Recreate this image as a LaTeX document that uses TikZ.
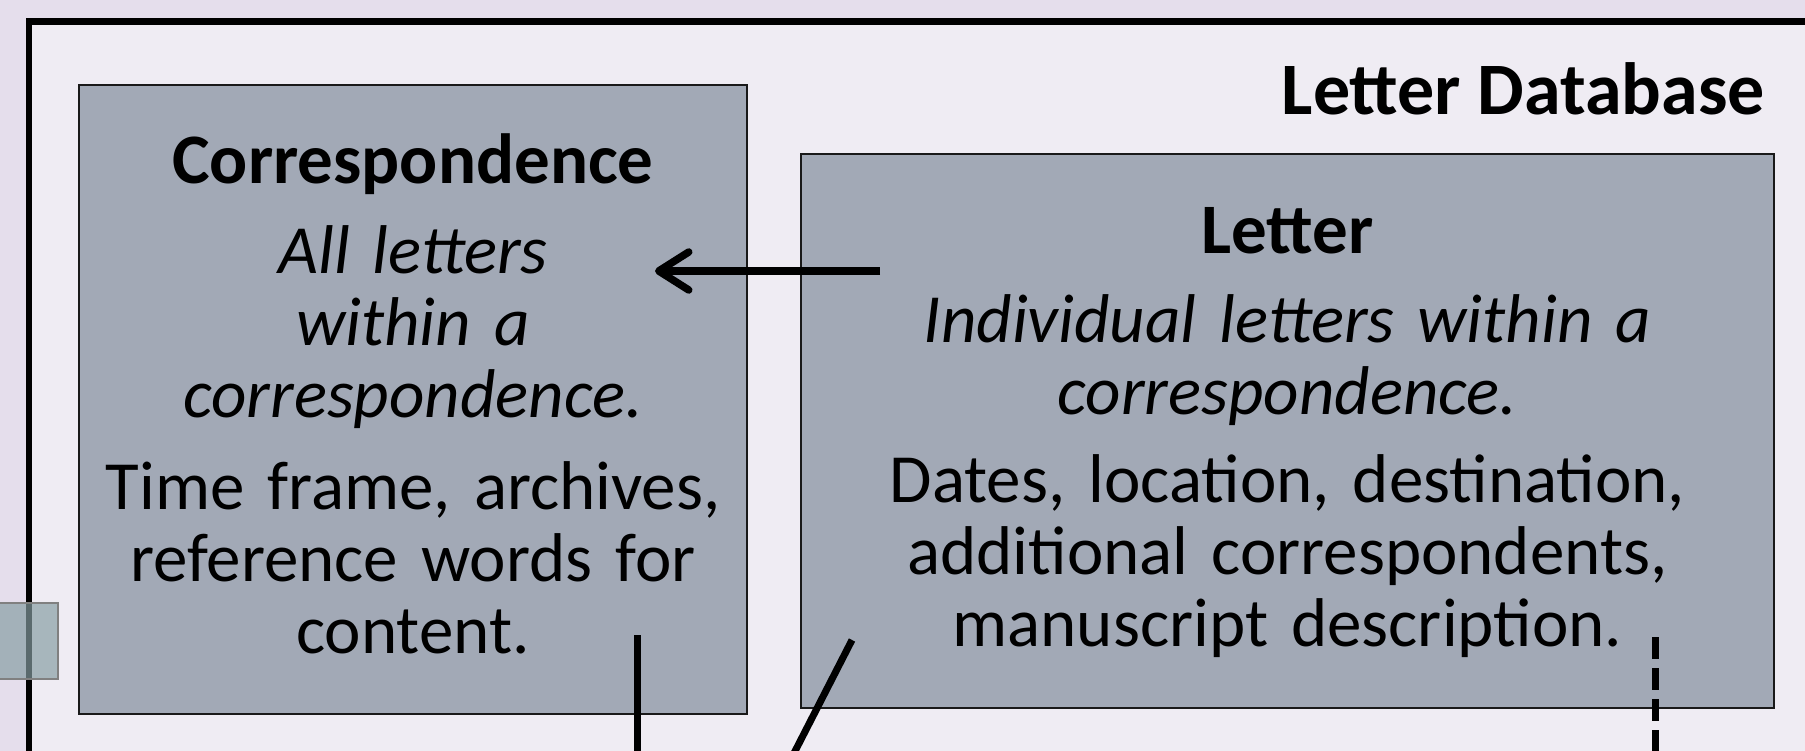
\documentclass[tikz,border=0pt]{standalone}
\usepackage{fontspec}
\setmainfont{Carlito}
\usetikzlibrary{arrows.meta,positioning}
\definecolor{pagebg}{RGB}{229,222,236}
\definecolor{framebg}{RGB}{239,236,243}
\definecolor{boxfill}{RGB}{162,169,182}
\definecolor{tabfill}{RGB}{133,157,162}
\tikzset{
  entity/.style={draw=black!90, line width=2pt, fill=boxfill, inner sep=0pt,
    align=center, font=\fontsize{69}{72}\selectfont},
  link/.style={line width=7pt}
}

\begin{document}
\begin{tikzpicture}[x=1pt,y=-1pt]
  \useasboundingbox (0,0) rectangle (1805,751);
  \clip (0,0) rectangle (1805,751);
  \fill[pagebg] (0,0) rectangle (1805,751);

  \draw[line width=6.5pt, fill=framebg] (29,21.5) rectangle (1900,900);

  \node[entity, minimum width=668pt, minimum height=629pt, text width=640pt, text height=39pt] (corr) at (413,399.5)
    {{\fontsize{71}{72}\selectfont\bfseries Correspondence}\\[18pt]
     {\itshape All letters\\ within a\\ correspondence.}\\[20pt]
     Time frame, archives,\\ reference words for\\ content.};

  \node[entity, minimum width=973pt, minimum height=554pt, text width=940pt, text height=50pt] (letter) at (1287.5,431)
    {{\fontsize{71}{72}\selectfont\bfseries Letter}\\[17pt]
     {\itshape Individual letters within a\\ correspondence.}\\[16pt]
     Dates, location, destination,\\ additional correspondents,\\ manuscript description.};

  \node[anchor=base east, inner sep=0pt, font=\fontsize{74}{80}\selectfont\bfseries] (title) at (1765,115) {Letter Database};

  \filldraw[fill=tabfill, fill opacity=0.68, draw=gray, line width=1.5pt] (-5,603) rectangle (58,679);

  \coordinate (letterout) at (880,271);
  \coordinate (corrin) at (655,271);
  \draw[line width=7.5pt, -{Straight Barb[length=30pt,width=38pt,round]}] (letterout) -- (corrin);

  \coordinate (corrfoot) at (637,635);
  \coordinate (corrdown) at (637,800);
  \draw[link] (corrfoot) -- (corrdown);

  \coordinate (letterfoot) at (852,640);
  \coordinate (letterdown) at (770,800);
  \draw[link] (letterfoot) -- (letterdown);

  \coordinate (letterend) at (1655,637);
  \coordinate (letterend down) at (1655,800);
  \draw[link, dash pattern=on 22pt off 9pt] (letterend) -- (letterend down);
\end{tikzpicture}
\end{document}
